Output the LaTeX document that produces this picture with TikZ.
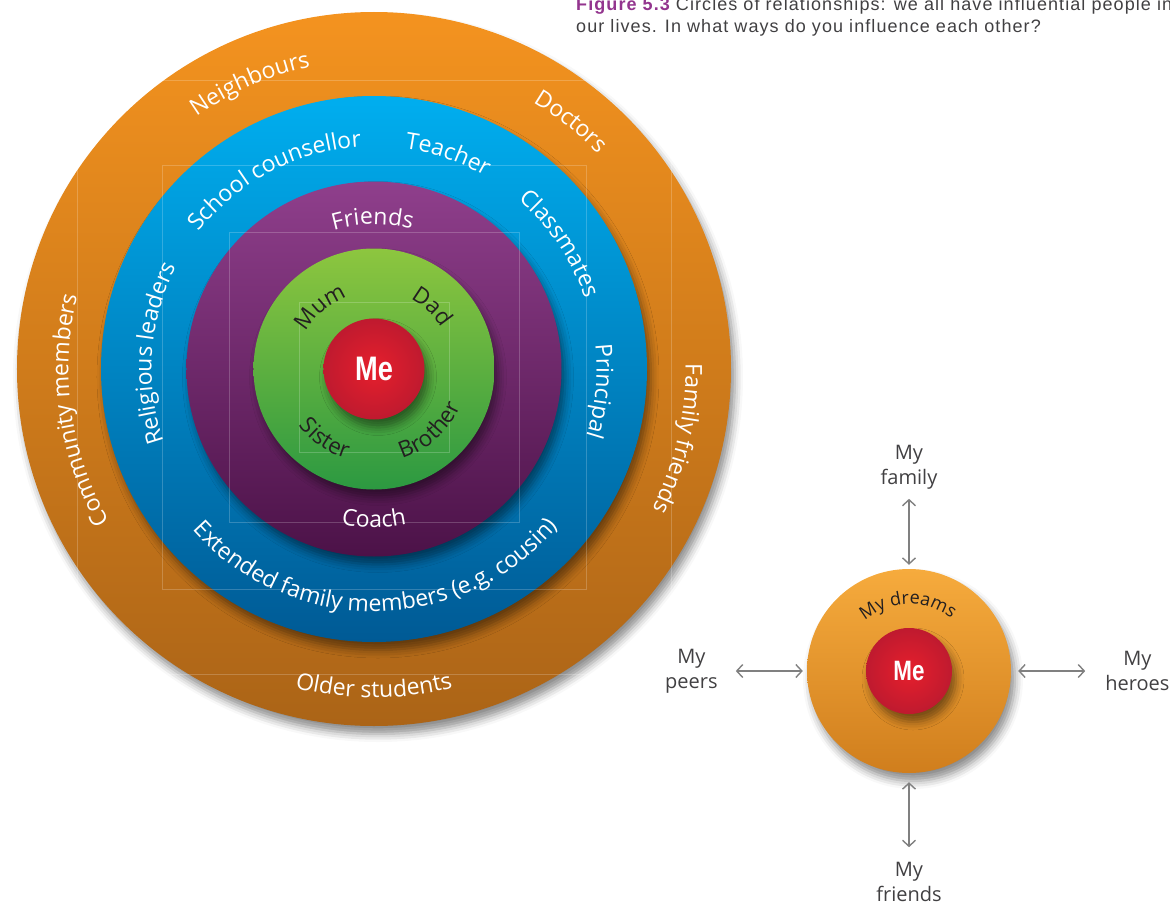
\documentclass[tikz,border=0pt]{standalone}
\usepackage{fontspec}
\usepackage{tikz}
\usetikzlibrary{calc}
\usetikzlibrary{positioning}
\usetikzlibrary{arrows.meta}
\usetikzlibrary{shadows.blur}
\usetikzlibrary{decorations.text}
\usepackage{xcolor}

\newfontfamily\labelfont{Open Sans}
\newfontfamily\capfont[LetterSpace=6]{Liberation Sans}
\newfontfamily\mefont[FakeStretch=0.8]{Liberation Sans}

\definecolor{orangetop}{HTML}{F4931F}
\definecolor{orangebot}{HTML}{AB6417}
\definecolor{bluetop}{HTML}{00AEEF}
\definecolor{bluebot}{HTML}{005A95}
\definecolor{purpletop}{HTML}{8F3F8C}
\definecolor{purplebot}{HTML}{4C1248}
\definecolor{greentop}{HTML}{8DC63F}
\definecolor{greenbot}{HTML}{2C9941}
\definecolor{redin}{HTML}{E61F2C}
\definecolor{redout}{HTML}{BF1A2F}
\definecolor{dreamtop}{HTML}{F6AB3D}
\definecolor{dreambot}{HTML}{D07E1D}
\definecolor{ink}{HTML}{231F20}
\definecolor{capgray}{HTML}{414042}
\definecolor{figpurple}{HTML}{93358E}
\definecolor{arrowgray}{HTML}{808080}

\def\ringfont{\labelfont\fontsize{23}{27}\selectfont}
\def\famfont{\labelfont\fontsize{22.5}{26}\selectfont}
\def\dreamfont{\labelfont\fontsize{18}{22}\selectfont}

\tikzset{
  ring/.style={circle, inner sep=0pt, minimum size=#1,
    blur shadow={shadow xshift=4pt, shadow yshift=-8pt, shadow blur radius=8pt, shadow opacity=45}},
  me/.style={ring=#1, inner color=redin, outer color=redout, text=white},
  white arc/.style={decorate, decoration={text along path, text align=center, text color=white}},
  ink arc/.style={decorate, decoration={text along path, text align=center, text color=ink}},
  tag/.style={align=center, text=capgray, inner sep=3pt, font=\labelfont\fontsize{20}{25}\selectfont},
  link/.style={draw=arrowgray, line width=1.4pt,
    {Straight Barb[length=6pt,width=13pt]}-{Straight Barb[length=6pt,width=13pt]}},
  ghost/.style={draw=white, draw opacity=0.2, line width=0.6pt},
}

% clockwise label, letters point away from the centre
\newcommand\cwlabel[5]{\path[#1, decoration={text={#5}}] ($(#2)+(#3+70:#4)$) arc[start angle=#3+70, end angle=#3-70, radius=#4];}
% counter clockwise label, letters point to the centre
\newcommand\ccwlabel[5]{\path[#1, decoration={text={#5}}] ($(#2)+(#3-70:#4)$) arc[start angle=#3-70, end angle=#3+70, radius=#4];}

\begin{document}
\begin{tikzpicture}[x=1pt, y=1pt]

\useasboundingbox (-374,-534) rectangle (796,369);

% circles of relationships
\node[ring=714pt, top color=orangetop, bottom color=orangebot] (community) at (0,0) {};
\node[ring=546pt, top color=bluetop, bottom color=bluebot] (school) at (0,0) {};
\node[ring=375pt, top color=purpletop, bottom color=purplebot] (friends) at (0,0) {};
\node[ring=241pt, top color=greentop, bottom color=greenbot] (family) at (0,0) {};
\node[me=101pt, font=\mefont\bfseries\fontsize{34}{34}\selectfont] (me) at (0,0) {Me};

\foreach \h in {297,212,145,75}
  \draw[ghost] (-\h,-8-\h) rectangle (\h,-8+\h);

\cwlabel{white arc}{community}{113.5}{308.5}{|\ringfont|Neighbours}
\cwlabel{white arc}{community}{51.5}{310.5}{|\ringfont|Doctors}
\cwlabel{white arc}{community}{-12.9}{311.5}{|\ringfont|Family friends}
\cwlabel{white arc}{community}{188}{305.5}{|\ringfont|Community members}
\ccwlabel{white arc}{community}{-90}{328.5}{|\ringfont|Older students}

\cwlabel{white arc}{school}{117.6}{222.5}{|\ringfont|School counsellor}
\cwlabel{white arc}{school}{71}{222.5}{|\ringfont|Teacher}
\cwlabel{white arc}{school}{34}{222.5}{|\ringfont|Classmates}
\cwlabel{white arc}{school}{-5.6}{222.5}{|\ringfont|Principal}
\cwlabel{white arc}{school}{175.8}{222.5}{|\ringfont|Religious leaders}
\ccwlabel{white arc}{school}{-89.5}{242.5}{|\ringfont|Extended family members (e.g. cousin)}

\cwlabel{white arc}{friends}{90.5}{144.5}{|\ringfont|Friends}
\ccwlabel{white arc}{friends}{-90}{158.5}{|\ringfont|Coach}

\cwlabel{ink arc}{family}{131}{77}{|\famfont|Mum}
\cwlabel{ink arc}{family}{47}{79}{|\famfont|Dad}
\ccwlabel{ink arc}{family}{235}{94}{|\famfont|Sister}
\ccwlabel{ink arc}{family}{-48}{94}{|\famfont|Brother}

% me and my dreams
\node[ring=204pt, top color=dreamtop, bottom color=dreambot] (dreams) at (535,-302) {};
\node[me=86pt, font=\mefont\bfseries\fontsize{28}{28}\selectfont] (me2) at (dreams) {Me};
\cwlabel{ink arc}{dreams}{91}{67}{|\dreamfont|My dreams}

\node[tag, above=76pt of dreams] (myfamily) {My\\family};
\node[tag, left=86pt of dreams] (mypeers) {My\\peers};
\node[tag, right=91pt of dreams] (myheroes) {My\\heroes};
\node[tag, below=86pt of dreams] (myfriends) {My\\friends};

\draw[link, shorten <=6pt, shorten >=4pt] (myfamily) -- (dreams);
\draw[link, shorten <=15pt, shorten >=4pt] (mypeers) -- (dreams);
\draw[link, shorten <=17pt, shorten >=7pt] (myheroes) -- (dreams);
\draw[link, shorten <=12pt, shorten >=9pt] (myfriends) -- (dreams);

\begin{scope}
\clip (-374,-534) rectangle (796,369);
\node[anchor=base west, inner sep=0pt, align=left, text=capgray,
  font=\capfont\fontsize{18}{22.5}\selectfont] (caption) at (202,336)
  {\textcolor{figpurple}{\bfseries Figure 5.3} Circles of relationships: we all have influential people in\\our lives. In what ways do you influence each other?};
\end{scope}

\end{tikzpicture}
\end{document}
